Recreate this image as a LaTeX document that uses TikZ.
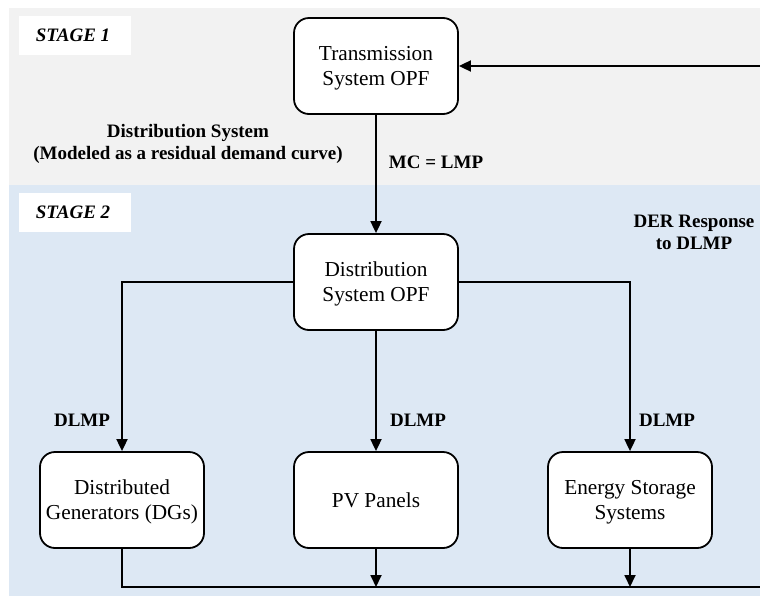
\documentclass[tikz,border=0pt]{standalone}
\usepackage{fontspec}
\setmainfont{Liberation Serif}
\usetikzlibrary{arrows.meta}
\definecolor{stagegrey}{HTML}{F2F2F2}
\definecolor{stageblue}{HTML}{DDE8F4}
\begin{document}
\begin{tikzpicture}[x=1pt,y=-1pt,
  box/.style={draw=black, line width=1.8pt, fill=white, rounded corners=15pt,
    minimum width=164pt, minimum height=96pt, align=center, inner sep=0pt,
    text depth=0pt, font=\fontsize{21.3}{25}\selectfont},
  stagebox/.style={fill=white, minimum width=112pt, minimum height=39pt, inner sep=0pt,
    font=\fontsize{19}{23}\selectfont\bfseries\itshape},
  lbl/.style={align=center, inner sep=0pt, font=\fontsize{19}{22}\selectfont\bfseries},
  conn/.style={draw=black, line width=1.8pt, -{Triangle[width=11pt,length=12pt]}},
  plain/.style={draw=black, line width=1.8pt}
]
\useasboundingbox (0,0) rectangle (760,595);
\clip (0,0) rectangle (760,595);
\fill[stagegrey] (9,8) rectangle (770,185);
\fill[stageblue] (9,185) rectangle (770,600);

\node[stagebox] (s1) at (75,35) {\hspace*{-4pt}STAGE 1};
\node[stagebox] (s2) at (75,212) {\hspace*{-4pt}STAGE 2};

\node[box] (T) at (376,66) {Transmission\\System OPF};
\node[box] (D) at (376,282) {Distribution\\System OPF};
\node[box] (DG) at (122,500) {Distributed\\Generators (DGs)};
\node[box] (PV) at (376,500) {PV Panels};
\node[box] (ESS) at (630,500) {Energy Storage\\Systems};

\node[lbl] (ds) at (188,144) {Distribution System\\(Modeled as a residual demand curve)};
\node[lbl] (mc) at (436,162) {MC = LMP};
\node[lbl] (der) at (694,232) {DER Response\\to DLMP};
\node[lbl] (l1) at (82,420) {DLMP};
\node[lbl] (l2) at (418,420) {DLMP};
\node[lbl] (l3) at (667,420) {DLMP};

\coordinate (pvb) at (376,587);
\coordinate (essb) at (630,587);
\coordinate (br) at (768,587);
\coordinate (tr) at (768,66);

\draw[conn] (T.south) -- (D.north);
\draw[conn] (D.west) -| (DG.north);
\draw[conn] (D.south) -- (PV.north);
\draw[conn] (D.east) -| (ESS.north);
\draw[conn] (PV.south) -- (pvb);
\draw[conn] (ESS.south) -- (essb);
\draw[conn, rounded corners=0pt] (DG.south) |- (br) -- (tr) -- (T.east);
\end{tikzpicture}
\end{document}
